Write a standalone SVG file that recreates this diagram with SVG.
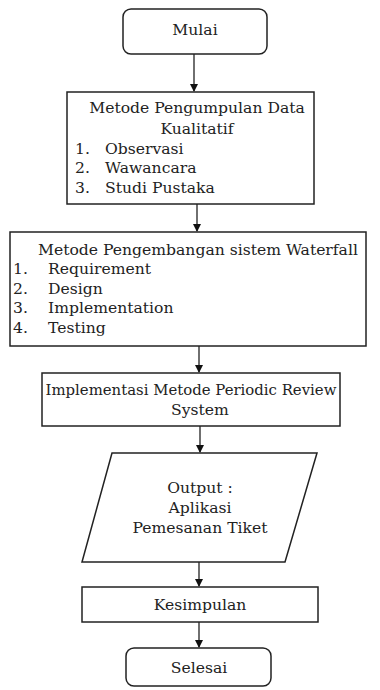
<svg xmlns="http://www.w3.org/2000/svg" width="380" height="690" viewBox="0 0 380 690">
<style>
.b{fill:#fff;stroke:#222;stroke-width:1.5}
.t{font-family:"DejaVu Serif","Liberation Serif",serif;font-size:15.6px;fill:#222}
.m{text-anchor:middle}
.c{stroke:#222;stroke-width:1.3;fill:none;marker-end:url(#ah)}
</style>
<defs>
<marker id="ah" markerWidth="8" markerHeight="8" refX="7" refY="4" orient="auto" markerUnits="userSpaceOnUse">
<path d="M0,0 L8,4 L0,8 Z" fill="#111"/>
</marker>
</defs>
<rect width="380" height="690" fill="#fff"/>
<g id="connectors">
<line class="c" x1="194" y1="54" x2="194" y2="91"/>
<line class="c" x1="197" y1="204" x2="197" y2="231"/>
<line class="c" x1="199" y1="346" x2="199" y2="372"/>
<line class="c" x1="200" y1="426" x2="200" y2="452"/>
<line class="c" x1="199" y1="562" x2="199" y2="586"/>
<line class="c" x1="199" y1="622" x2="199" y2="647"/>
</g>
<g id="mulai">
<rect class="b" x="123" y="9" width="144" height="45" rx="8"/>
<text class="t m" x="195" y="35">Mulai</text>
</g>
<g id="pengumpulan">
<rect class="b" x="67" y="92" width="247" height="112"/>
<text class="t m" x="197" y="113">Metode Pengumpulan Data</text>
<text class="t m" x="197" y="134">Kualitatif</text>
<text class="t" x="75" y="154">1.</text><text class="t" x="105" y="154">Observasi</text>
<text class="t" x="75" y="173">2.</text><text class="t" x="105" y="173">Wawancara</text>
<text class="t" x="75" y="193">3.</text><text class="t" x="105" y="193">Studi Pustaka</text>
</g>
<g id="waterfall">
<rect class="b" x="10" y="232" width="356" height="114"/>
<text class="t" x="38" y="255">Metode Pengembangan sistem Waterfall</text>
<text class="t" x="13" y="274">1.</text><text class="t" x="48" y="274">Requirement</text>
<text class="t" x="13" y="294">2.</text><text class="t" x="48" y="294">Design</text>
<text class="t" x="13" y="313">3.</text><text class="t" x="48" y="313">Implementation</text>
<text class="t" x="13" y="333">4.</text><text class="t" x="48" y="333">Testing</text>
</g>
<g id="implementasi">
<rect class="b" x="42" y="373" width="298" height="53"/>
<text class="t m" x="191" y="395" style="font-size:14.9px">Implementasi Metode Periodic Review</text>
<text class="t m" x="200" y="415">System</text>
</g>
<g id="output">
<polygon class="b" points="112,453 317,453 285,562 82,562"/>
<text class="t m" x="200" y="493">Output :</text>
<text class="t m" x="200" y="513">Aplikasi</text>
<text class="t m" x="200" y="533">Pemesanan Tiket</text>
</g>
<g id="kesimpulan">
<rect class="b" x="82" y="587" width="236" height="35"/>
<text class="t m" x="200" y="610">Kesimpulan</text>
</g>
<g id="selesai">
<rect class="b" x="126" y="648" width="145" height="38" rx="8"/>
<text class="t m" x="199" y="673">Selesai</text>
</g>
</svg>
